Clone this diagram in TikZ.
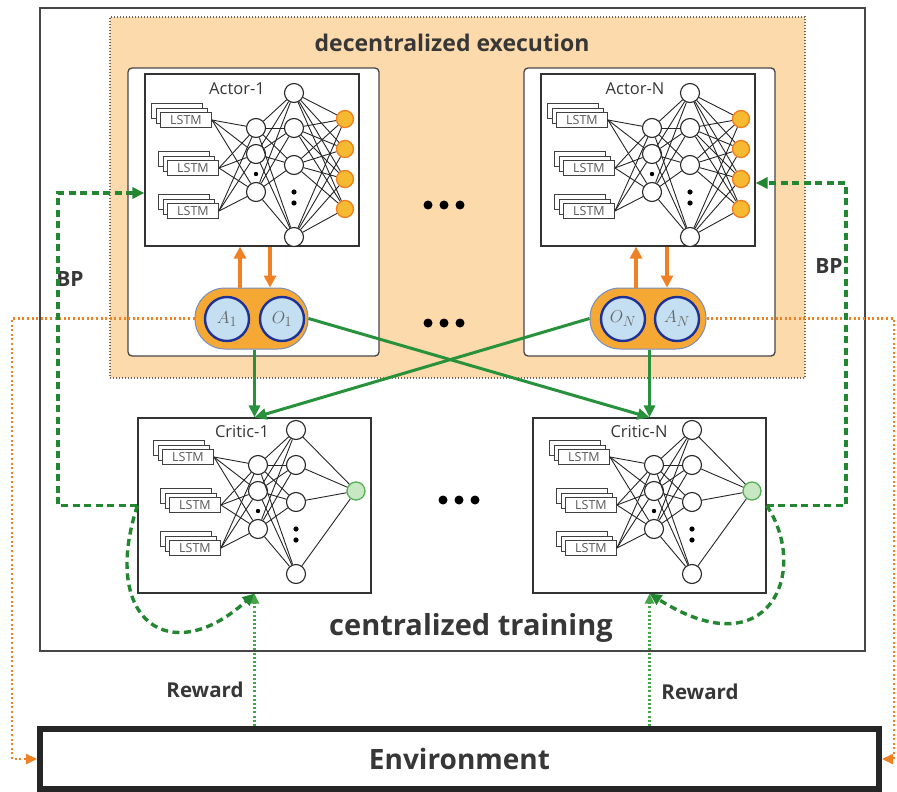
\documentclass[tikz,border=0pt]{standalone}
\usepackage{fontspec}
\setmainfont{Open Sans}
\usetikzlibrary{arrows.meta,calc}

\definecolor{peach}{RGB}{252,218,172}
\definecolor{pillorange}{RGB}{245,168,52}
\definecolor{pillframe}{RGB}{120,140,190}
\definecolor{pillblue}{RGB}{196,222,242}
\definecolor{ringblue}{RGB}{30,50,150}
\definecolor{arroworange}{RGB}{240,128,36}
\definecolor{linkgreen}{RGB}{40,145,60}
\definecolor{bpgreen}{RGB}{35,135,50}
\definecolor{rewardgreen}{RGB}{70,165,70}
\definecolor{outorange}{RGB}{246,185,50}
\definecolor{outedge}{RGB}{240,125,30}
\definecolor{critfill}{RGB}{200,232,195}
\definecolor{critedge}{RGB}{85,175,85}
\definecolor{textgray}{RGB}{55,55,55}
\definecolor{framegray}{RGB}{70,70,70}

\tikzset{
  frame/.style={draw=framegray, line width=1.3pt, fill=white, inner sep=0pt},
  netbox/.style={draw=black!80, line width=1.2pt, fill=white, inner sep=0pt},
  lstmcard/.style={draw=black!75, line width=0.9pt, fill=white, minimum width=51pt,
    minimum height=15pt, inner sep=0pt, text=black!65},
  neuron/.style={circle, draw=black!85, line width=1.1pt, fill=white, minimum size=19pt, inner sep=0pt},
  actout/.style={circle, draw=outedge, line width=1.3pt, fill=outorange, minimum size=17pt, inner sep=0pt},
  critout/.style={circle, draw=critedge, line width=1.3pt, fill=critfill, minimum size=18pt, inner sep=0pt},
  synapse/.style={black!85, line width=0.9pt},
  netlabel/.style={font=\fontsize{16.5}{16.5}\selectfont, text=textgray},
  boldlabel/.style={font=\bfseries\fontsize{#1}{#1}\selectfont, text=textgray},
  agent/.style={circle, draw=ringblue, line width=2.4pt, fill=pillblue, minimum size=44pt,
    inner sep=0pt, text=black!60},
  pill/.style={draw=pillframe, line width=1pt, fill=pillorange, rounded corners=30pt,
    minimum width=#1, minimum height=61pt, inner sep=0pt},
  oarrow/.style={draw=arroworange, line width=3.6pt, -{Triangle[length=12pt,width=12pt]}},
  garrow/.style={draw=linkgreen, line width=3pt, -{Triangle[length=12pt,width=11pt]}},
  bp/.style={draw=bpgreen, line width=3.4pt, dash pattern=on 7pt off 4.5pt,
    -{Triangle[length=12pt,width=11pt]}},
  reward/.style={draw=rewardgreen, line width=2.2pt, dash pattern=on 2pt off 2.2pt,
    -{Triangle[length=10pt,width=9pt]}},
  feedback/.style={draw=arroworange, line width=2.4pt, dash pattern=on 2pt off 2.6pt,
    -{Triangle[length=11pt,width=10pt]}},
}

\newcommand\lstmtext{\fontsize{12.5}{12.5}\selectfont LSTM}
\newcommand\agenttext[1]{\fontsize{19}{19}\selectfont$#1$}

% LSTM stacks, two hidden layers and the output layer of one network;
% #1 name prefix, (#2,#3) first neuron of the first hidden layer, #4 0 = actor, 1 = critic
\newcommand\netlayers[4]{%
  \begin{scope}[shift={(#2,#3)}]
    \foreach \i/\px/\py in {1/-70/-8,2/-63/40,3/-63/83}{
      \node[lstmcard] at (\px-9,\py-9) {};
      \node[lstmcard] at (\px-4.5,\py-4.5) {};
      \node[lstmcard] (#1l\i) at (\px,\py) {\lstmtext};
    }
    \foreach \i/\py in {1/0,2/26,3/64} \node[neuron] (#1h\i) at (0,\py) {};
    \foreach \i/\py in {1/-35,2/0,3/37,4/109} \node[neuron] (#1g\i) at (38,\py) {};
    \fill (0,46) circle (2.2pt) (38,64) circle (2.6pt) (38,75) circle (2.6pt);
    \ifnum#4=0
      \foreach \i/\py in {1/-9,2/21,3/51,4/81} \node[actout] (#1o\i) at (89,\py) {};
      \foreach \a in {1,...,4}{\foreach \b in {1,...,4}{\draw[synapse] (#1g\a) -- (#1o\b);}}
    \else
      \node[critout] (#1o1) at (98,26) {};
      \foreach \a in {1,...,4}{\draw[synapse] (#1g\a) -- (#1o1);}
    \fi
    \foreach \a in {1,2,3}{\foreach \b in {1,2,3}{\draw[synapse] (#1l\a.east) -- (#1h\b);}}
    \foreach \a in {1,2,3}{\foreach \b in {1,...,4}{\draw[synapse] (#1h\a) -- (#1g\b);}}
  \end{scope}}

\begin{document}
\begin{tikzpicture}[x=1pt,y=-1pt]
\useasboundingbox[fill=white] (0,0) rectangle (897,792);

% centralized training frame and decentralized execution area
\node[frame, minimum width=825pt, minimum height=643pt] (train) at (452.5,329.5) {};
\node[fill=peach, draw=black!60, line width=1.2pt, dash pattern=on 1.2pt off 1.8pt,
      minimum width=695pt, minimum height=361pt, inner sep=0pt] (exec) at (457.5,197.5) {};
\node[boldlabel=23] (execlabel) at (452,43) {decentralized execution};

% actor holders
\node[frame, rounded corners=4pt, minimum width=251pt, minimum height=288pt] (holder1) at (253.5,212) {};
\node[frame, rounded corners=4pt, minimum width=251pt, minimum height=288pt] (holderN) at (649.5,212) {};

% actor networks
\node[netbox, minimum width=214pt, minimum height=172pt] (actor1) at (252,160) {};
\node[netbox, minimum width=214pt, minimum height=172pt] (actorN) at (648,160) {};
\node[netlabel] (actor1label) at (237,89) {Actor-1};
\node[netlabel] (actorNlabel) at (635,89) {Actor-N};
\netlayers{aa}{256}{128}{0}
\netlayers{an}{652}{128}{0}

% observation / action capsules
\node[pill=113pt] (pill1) at (251.5,318.5) {};
\node[agent] (a1) at (227,319) {\agenttext{A_1}};
\node[agent] (o1) at (282,319) {\agenttext{O_1}};
\node[pill=116pt] (pillN) at (648,318.5) {};
\node[agent] (oN) at (623,319) {\agenttext{O_N}};
\node[agent] (aN) at (677,319) {\agenttext{A_N}};

% critic networks
\node[netbox, minimum width=233pt, minimum height=175pt] (critic1) at (254.5,505.5) {};
\node[netbox, minimum width=233pt, minimum height=175pt] (criticN) at (649.5,505.5) {};
\node[netlabel] (critic1label) at (242,432) {Critic-1};
\node[netlabel] (criticNlabel) at (639,432) {Critic-N};
\netlayers{ca}{258}{465}{1}
\netlayers{cn}{654}{465}{1}

% ellipses between agents
\foreach \cx/\cy in {444/205,444/323,459/500}{
  \foreach \dx in {-16,0,16}{\fill (\cx+\dx,\cy) circle (4.5pt);}}

\node[boldlabel=29] (trainlabel) at (471,628) {centralized training};

% environment
\node[draw=black!85, line width=6pt, minimum width=839pt, minimum height=60pt, inner sep=0pt,
      boldlabel=28] (env) at (459.5,759) {Environment};
\node[boldlabel=20.5] (reward1) at (205,690) {Reward};
\node[boldlabel=20.5] (rewardN) at (700,692) {Reward};
\node[boldlabel=21] (bpL) at (70,279) {BP};
\node[boldlabel=21] (bpR) at (829,266) {BP};

% actor <-> capsule exchange
\coordinate (up1) at ($(pill1.north)+(-11.5,0)$);
\coordinate (dn1) at ($(pill1.north)+(18.5,0)$);
\coordinate (upN) at ($(pillN.north)+(-12,0)$);
\coordinate (dnN) at ($(pillN.north)+(19,0)$);
\draw[oarrow] (up1) -- (up1 |- actor1.south);
\draw[oarrow] (dn1 |- actor1.south) -- (dn1);
\draw[oarrow] (upN) -- (upN |- actorN.south);
\draw[oarrow] (dnN |- actorN.south) -- (dnN);

% capsules -> critics
\draw[garrow] (critic1.north |- pill1.south) -- (critic1.north);
\draw[garrow] (criticN.north |- pillN.south) -- (criticN.north);
\draw[garrow] (pill1.east) -- (criticN.north);
\draw[garrow] (pillN.west) -- (critic1.north);

% actions to the environment
\coordinate (sideL) at (12,0);
\coordinate (sideR) at (894,0);
\draw[feedback] (pill1.west) -- (pill1.west -| sideL) |- (env.west);
\draw[feedback] (pillN.east) -- (pillN.east -| sideR) |- (env.east);

% rewards
\draw[reward] (env.north -| critic1.south) -- (critic1.south);
\draw[reward] (env.north -| criticN.south) -- (criticN.south);

% back-propagation paths
\coordinate (bpLtop) at (58,193);
\coordinate (bpRtop) at (846,183);
\draw[bp] (critic1.west) -| (bpLtop) -- (bpLtop -| actor1.west);
\draw[bp] (criticN.east) -| (bpRtop) -- (bpRtop -| actorN.east);
\draw[bp] (critic1.west) .. controls (100,620) and (170,670) .. (critic1.south);
\draw[bp] (criticN.east) .. controls (810,570) and (770,670) .. (criticN.south);
\end{tikzpicture}
\end{document}
